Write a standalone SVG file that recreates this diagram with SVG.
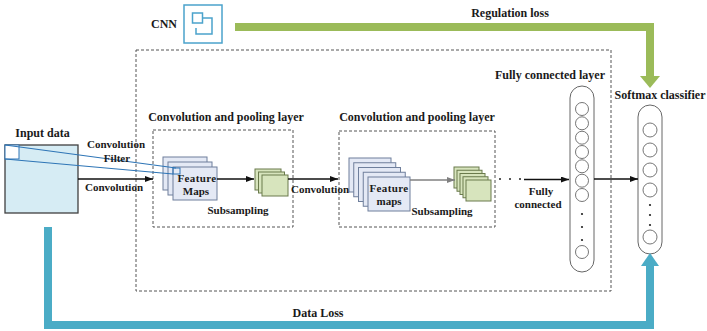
<svg xmlns="http://www.w3.org/2000/svg" width="707" height="331" viewBox="0 0 707 331">
  <style>
    text { font-family: "Liberation Serif", "Times New Roman", serif; font-weight: bold; fill: #1a1a1a; }
    .lg { font-size: 12px; }
    .sm { font-size: 11px; }
    .mid { text-anchor: middle; }
    .dash { fill: none; stroke: #555; stroke-width: 1; stroke-dasharray: 3 2; }
    .fm { fill: #E4E9F5; stroke: #6F7F9C; stroke-width: 1; }
    .pool { fill: #D7E4BD; stroke: #6A7A4C; stroke-width: 1; }
    .arrow { fill: none; stroke: #111; stroke-width: 1.3; marker-end: url(#head); }
    .arrow-gray { fill: none; stroke: #808080; stroke-width: 1.3; marker-end: url(#headGray); }
    .pill { fill: #fff; stroke: #666; stroke-width: 1; }
    .neuron { fill: #fff; stroke: #666; stroke-width: 0.9; }
    .dot { fill: #222; }
    .filter { fill: none; stroke: #2E75B6; stroke-width: 1.2; }
    .icon { fill: none; stroke: #4BA3CC; stroke-width: 1.5; }
  </style>
  <defs>
    <marker id="head" viewBox="0 0 8 6" refX="8" refY="3" markerWidth="8" markerHeight="6" markerUnits="userSpaceOnUse" orient="auto">
      <path d="M0,0 L8,3 L0,6 z" fill="#111"/>
    </marker>
    <marker id="headGray" viewBox="0 0 8 6" refX="8" refY="3" markerWidth="8" markerHeight="6" markerUnits="userSpaceOnUse" orient="auto">
      <path d="M0,0 L8,3 L0,6 z" fill="#808080"/>
    </marker>
  </defs>

  <rect width="707" height="331" fill="#fff"/>

  <!-- CNN icon -->
  <g id="cnn">
    <text class="lg mid" x="164" y="28">CNN</text>
    <rect class="icon" x="184" y="5" width="38" height="38" fill="#fff"/>
    <rect class="icon" x="192.5" y="13" width="10" height="10"/>
    <path class="icon" d="M203,18 H212 V34 H196 V28"/>
  </g>

  <!-- overall network frame -->
  <rect id="network-frame" class="dash" x="136" y="50" width="475" height="241"/>

  <!-- input image -->
  <g id="input-data">
    <text class="lg mid" x="42.5" y="137">Input data</text>
    <rect x="5" y="145" width="73" height="68" fill="#D6ECF4" stroke="#404040" stroke-width="1.3"/>
    <rect x="5" y="145" width="14" height="14" fill="#fff" stroke="#2E75B6" stroke-width="1"/>
  </g>

  <!-- first convolution + pooling stage -->
  <g id="conv-pool-1">
    <text class="lg mid" x="226" y="121">Convolution and pooling layer</text>
    <rect class="dash" x="153" y="130" width="140" height="97"/>
    <rect class="fm" x="163" y="157" width="44" height="33"/>
    <rect class="fm" x="168" y="162" width="44" height="33"/>
    <rect class="fm" x="173" y="167" width="44" height="33"/>
    <rect x="173" y="168" width="7" height="6" fill="none" stroke="#2E75B6" stroke-width="1"/>
    <text class="sm mid" x="197" y="182" letter-spacing="0.4">Feature</text>
    <text class="sm mid" x="196" y="195">Maps</text>
    <rect class="pool" x="255" y="169" width="26" height="21"/>
    <rect class="pool" x="258.5" y="172" width="26" height="21"/>
    <rect class="pool" x="262" y="175" width="26" height="21"/>
    <text class="sm mid" x="238" y="214">Subsampling</text>
  </g>

  <!-- second convolution + pooling stage -->
  <g id="conv-pool-2">
    <text class="lg mid" x="417" y="121">Convolution and pooling layer</text>
    <rect class="dash" x="339" y="131" width="156" height="96"/>
    <rect class="fm" x="349" y="158" width="42" height="34"/>
    <rect class="fm" x="353.75" y="162.75" width="42" height="34"/>
    <rect class="fm" x="358.5" y="167.5" width="42" height="34"/>
    <rect class="fm" x="363.25" y="172.25" width="42" height="34"/>
    <rect class="fm" x="368" y="177" width="42" height="34"/>
    <text class="sm mid" x="389" y="192" letter-spacing="0.4">Feature</text>
    <text class="sm mid" x="389" y="205">maps</text>
    <rect class="pool" x="454" y="167" width="25" height="21"/>
    <rect class="pool" x="457" y="170.25" width="25" height="21"/>
    <rect class="pool" x="460" y="173.5" width="25" height="21"/>
    <rect class="pool" x="463" y="176.75" width="25" height="21"/>
    <rect class="pool" x="466" y="180" width="25" height="21"/>
    <text class="sm mid" x="442" y="215">Subsampling</text>
  </g>

  <!-- fully connected layer -->
  <g id="fc-layer">
    <text class="lg mid" x="550" y="79">Fully connected layer</text>
    <rect class="pill" x="570" y="86" width="24" height="186" rx="12" ry="12"/>
    <circle class="neuron" cx="582" cy="109" r="6.5"/>
    <circle class="neuron" cx="582" cy="123.3" r="6.5"/>
    <circle class="neuron" cx="582" cy="137.7" r="6.5"/>
    <circle class="neuron" cx="582" cy="152" r="6.5"/>
    <circle class="neuron" cx="582" cy="166.3" r="6.5"/>
    <circle class="neuron" cx="582" cy="180.7" r="6.5"/>
    <circle class="neuron" cx="582" cy="195" r="6.5"/>
    <circle class="dot" cx="582" cy="214" r="1.1"/>
    <circle class="dot" cx="582" cy="227" r="1.1"/>
    <circle class="dot" cx="582" cy="240" r="1.1"/>
    <circle class="neuron" cx="582" cy="252" r="6.5"/>
  </g>

  <!-- softmax output -->
  <g id="softmax">
    <text class="lg mid" x="660" y="99">Softmax classifier</text>
    <rect class="pill" x="638" y="105" width="24" height="149" rx="12" ry="12"/>
    <circle class="neuron" cx="650" cy="130" r="7"/>
    <circle class="neuron" cx="650" cy="150" r="7"/>
    <circle class="neuron" cx="650" cy="170" r="7"/>
    <circle class="neuron" cx="650" cy="190" r="7"/>
    <circle class="dot" cx="650" cy="205" r="1.1"/>
    <circle class="dot" cx="650" cy="215" r="1.1"/>
    <circle class="dot" cx="650" cy="225" r="1.1"/>
    <circle class="neuron" cx="650" cy="237" r="7"/>
  </g>

  <!-- connectors between stages -->
  <g id="connectors">
    <line class="filter" x1="5" y1="145" x2="176" y2="168"/>
    <line class="filter" x1="5" y1="159" x2="173" y2="174"/>
    <text class="sm mid" x="116" y="148">Convolution</text>
    <text class="sm mid" x="117" y="162">Filter</text>

    <line class="arrow" x1="78" y1="179" x2="153" y2="179"/>
    <text class="sm mid" x="114" y="191">Convolution</text>

    <line class="arrow" x1="217" y1="179" x2="254" y2="179"/>

    <line class="arrow" x1="288" y1="179" x2="338" y2="179"/>
    <text class="sm mid" x="320" y="193">Convolution</text>

    <line class="arrow-gray" x1="410" y1="180" x2="455" y2="180"/>

    <circle class="dot" cx="500" cy="179" r="1"/>
    <circle class="dot" cx="510" cy="179" r="1"/>
    <circle class="dot" cx="520" cy="179" r="1"/>
    <line class="arrow" x1="524" y1="179.5" x2="569" y2="179.5"/>
    <text class="sm mid" x="541" y="195">Fully</text>
    <text class="sm mid" x="538" y="208">connected</text>

    <line class="arrow" x1="594" y1="179" x2="638" y2="179"/>
  </g>

  <!-- loss feedback paths -->
  <g id="losses">
    <path d="M235,27 H650 V77" fill="none" stroke="#9BBB59" stroke-width="8" stroke-linejoin="miter"/>
    <polygon points="640,76 660,76 650,88" fill="#9BBB59"/>
    <text class="lg mid" x="510" y="17">Regulation loss</text>

    <path d="M48,227 V325 H650 V265" fill="none" stroke="#4BACC6" stroke-width="8" stroke-linejoin="miter"/>
    <polygon points="641,266 659,266 650,253" fill="#4BACC6"/>
    <text class="lg mid" x="318" y="317">Data Loss</text>
  </g>
</svg>
